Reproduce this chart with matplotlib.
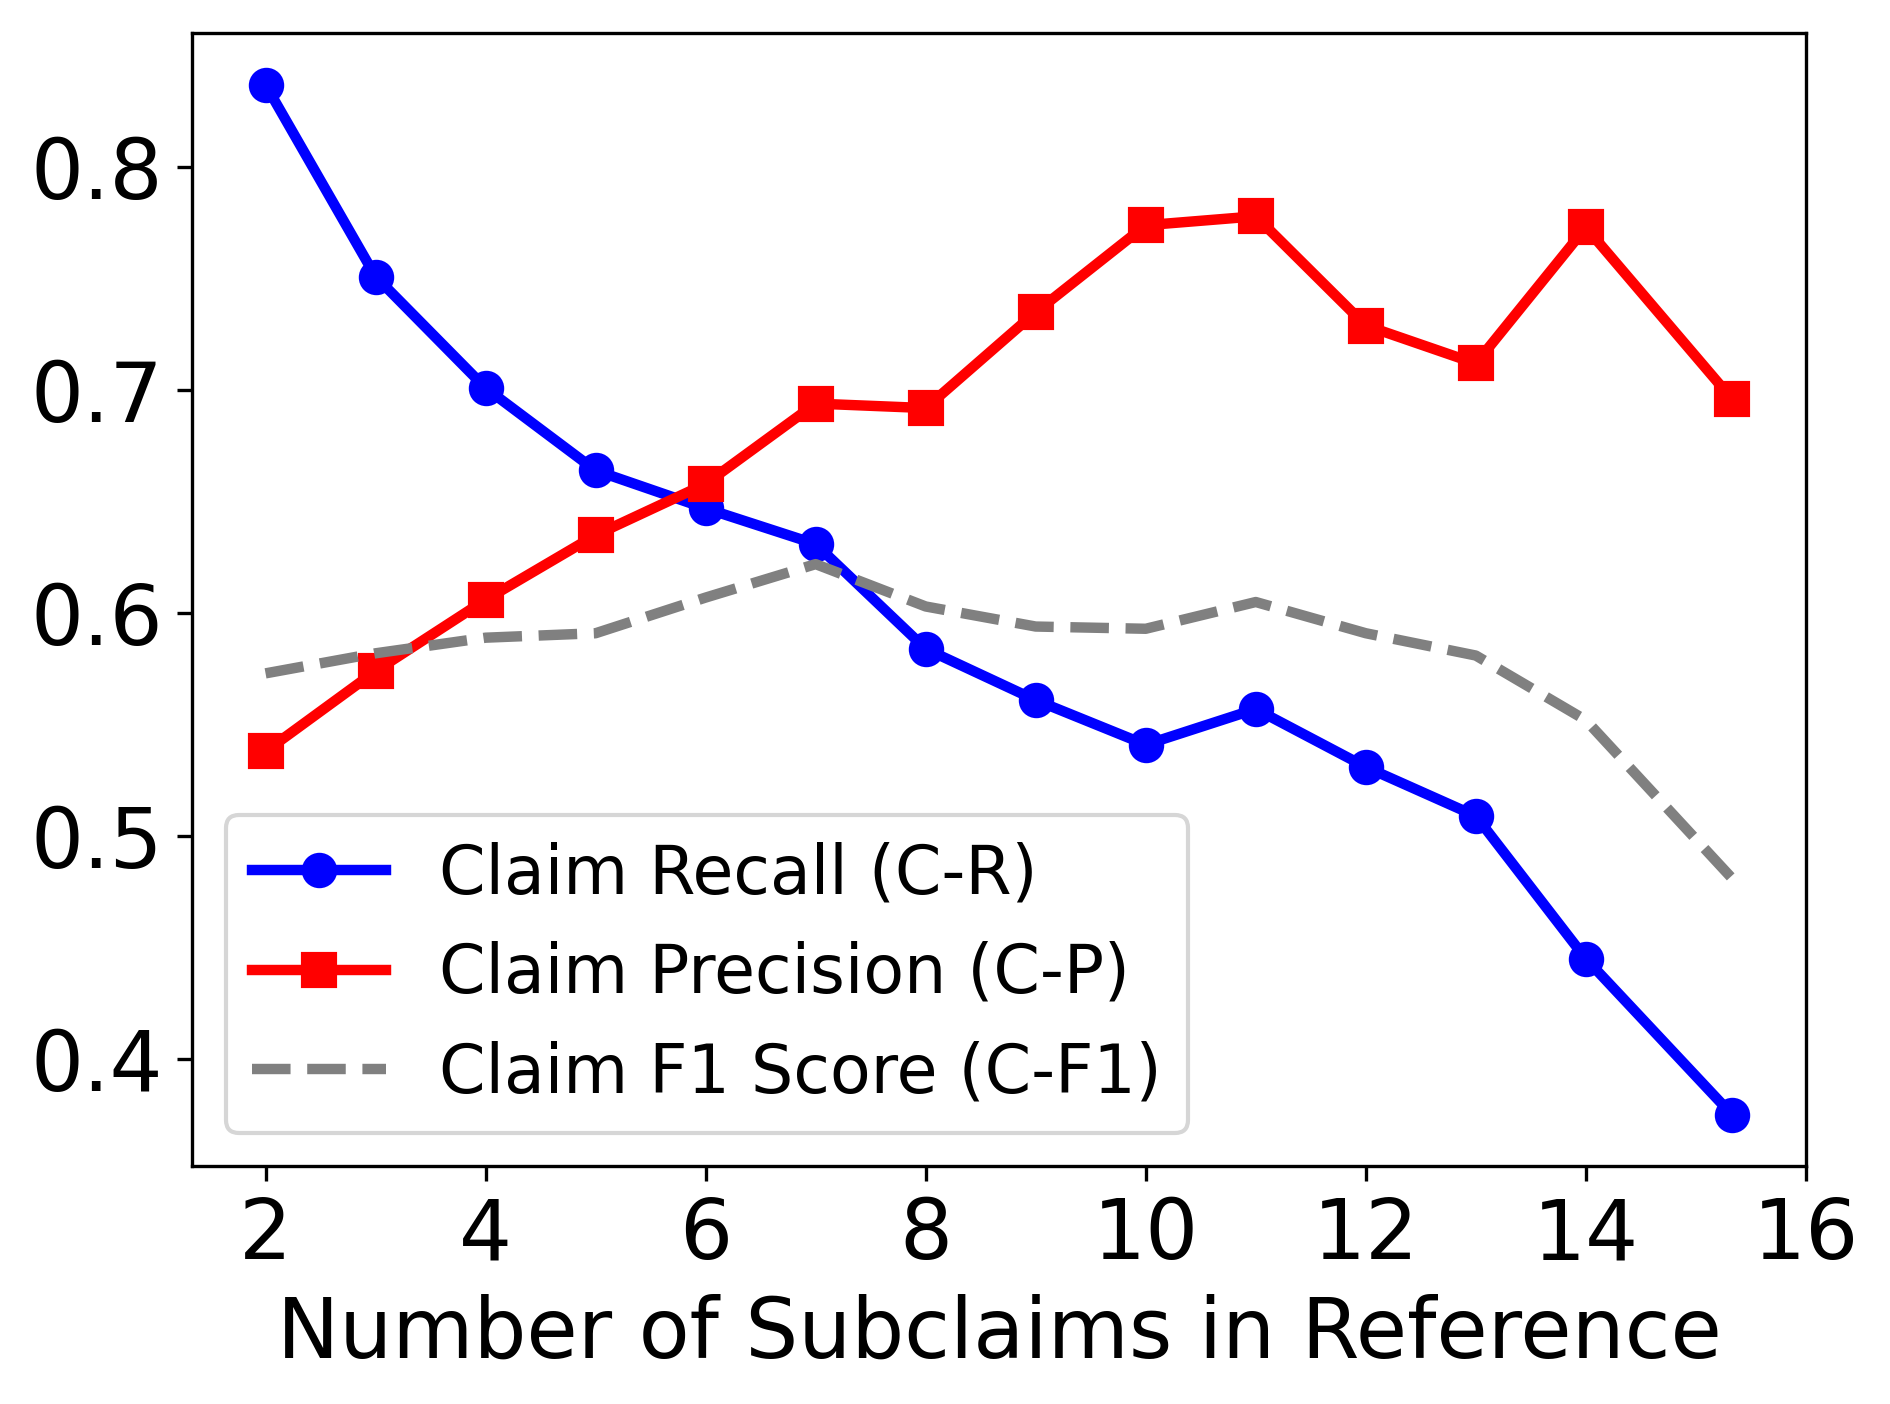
import matplotlib
matplotlib.use('Agg')
import matplotlib.pyplot as plt

# Values
subclaims = [2, 3, 4, 5, 6, 7, 8, 9, 10, 11, 12, 13, 14, 15.33]
recall = [0.837, 0.751, 0.701, 0.664, 0.647, 0.631, 0.584, 0.561, 0.541, 0.557, 0.531, 0.509, 0.445, 0.375]
precision = [0.538, 0.574, 0.606, 0.635, 0.658, 0.694, 0.692, 0.735, 0.774, 0.778, 0.729, 0.712, 0.773, 0.696]
f1 = [0.573, 0.582, 0.589, 0.591, 0.607, 0.622, 0.603, 0.594, 0.593, 0.605, 0.591, 0.581, 0.552, 0.481]

fig = plt.figure(figsize=(6.3, 4.68), dpi=300)
ax = fig.add_axes([0.1017, 0.1693, 0.8538, 0.807])

ax.plot(subclaims, recall, color='blue', marker='o', lw=2.5, ms=7.5, label='Claim Recall (C-R)')
ax.plot(subclaims, precision, color='red', marker='s', lw=2.5, ms=7.5, label='Claim Precision (C-P)')
ax.plot(subclaims, f1, color='gray', ls='--', lw=2.5, label='Claim F1 Score (C-F1)')

ax.set_xticks([2, 4, 6, 8, 10, 12, 14, 16])
ax.set_yticks([0.4, 0.5, 0.6, 0.7, 0.8])
ax.tick_params(labelsize=20)
ax.set_xlabel('Number of Subclaims in Reference', fontsize=20)
ax.legend(fontsize=16, loc='lower left')

fig.savefig('out.png', dpi=300)
